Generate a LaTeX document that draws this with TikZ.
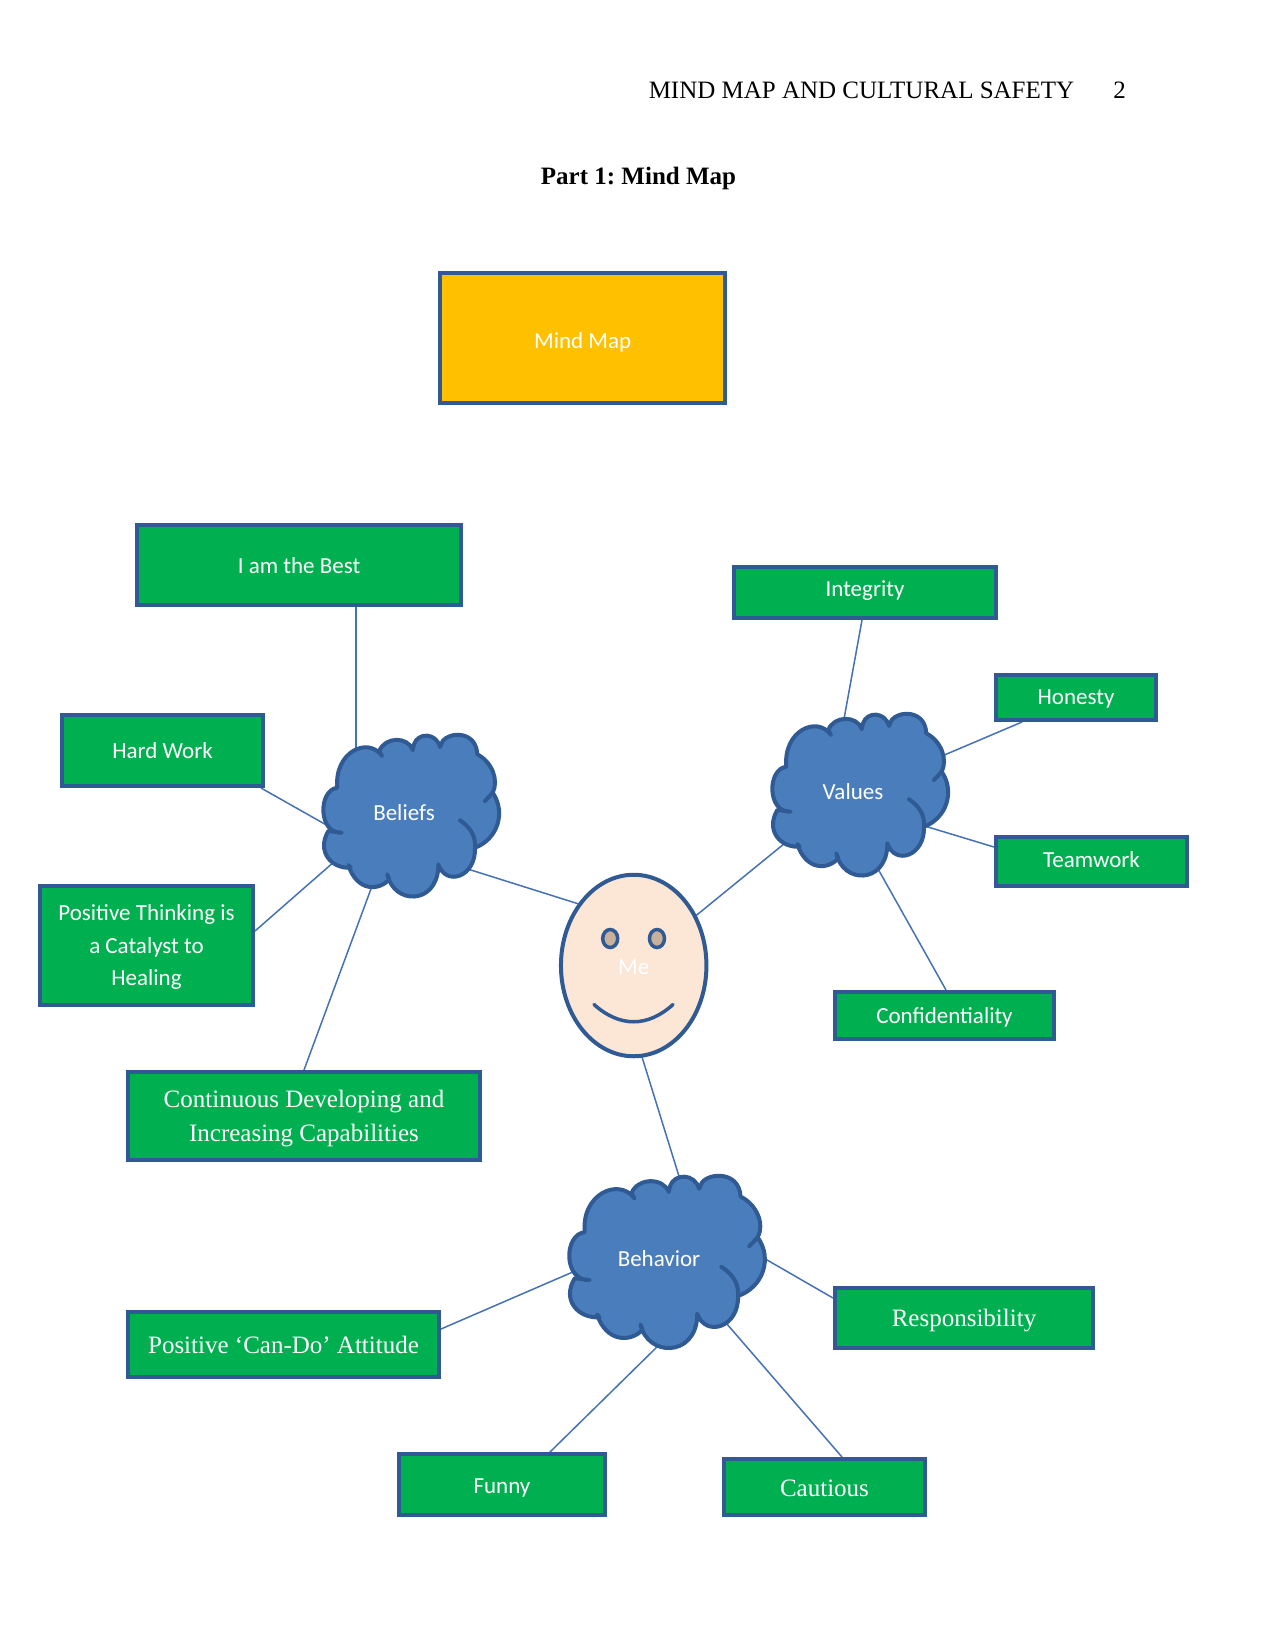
\documentclass[tikz,border=0pt]{standalone}
\usepackage{fontspec}
\setmainfont{Liberation Serif}
\newfontfamily\calibri{Carlito}
\usetikzlibrary{shapes.geometric,backgrounds}
\definecolor{edgeblue}{HTML}{2F5A94}
\definecolor{linkblue}{HTML}{4472B4}
\definecolor{cloudblue}{HTML}{4A7DBB}
\definecolor{boxgreen}{HTML}{00B050}
\definecolor{boxyellow}{HTML}{FFC000}
\definecolor{facepeach}{HTML}{FCE6D6}
\definecolor{eyetan}{HTML}{C9B09B}
\tikzset{
  greenbox/.style={draw=edgeblue, line width=4, fill=boxgreen, text=white, align=center, font=\fontsize{23}{32.5}\selectfont\calibri},
  serifbox/.style={greenbox, font=\fontsize{25}{33.5}\selectfont},
  cloudtext/.style={text=white, text height=18, font=\fontsize{23}{28}\selectfont\calibri},
  link/.style={draw=linkblue, line width=1.5},
  pics/puff/.style={code={
    \draw[edgeblue, fill=cloudblue, line width=4, line join=round, line cap=round]
      (-66.7,24.3) .. controls (-70,60) and (-36,76) .. (-22,56) -- (-24.7,61)
      .. controls (-19,75.7) and (4,75.7) .. (8.7,62) -- (10,67.7)
      .. controls (14,79.7) and (32,79.7) .. (36,65) -- (38.7,71)
      .. controls (45,80) and (72,82) .. (73.3,57.7)
      .. controls (88,50) and (95,32) .. (88.7,19.3)
      .. controls (102,0) and (94,-27) .. (71,-35.7)
      .. controls (72,-65) and (42,-75) .. (34.3,-52.3) -- (34.3,-55.7)
      .. controls (32,-93) and (-10,-93) .. (-16.7,-62.3) -- (-14.7,-67.3)
      .. controls (-25,-79) and (-47,-80) .. (-55.7,-53) -- (-53.3,-55.7)
      .. controls (-72,-57) and (-88,-40) .. (-75.7,-19) -- (-62.3,-20.7)
      .. controls (-86,-22) and (-86,22) .. (-66.7,24.3) -- cycle;
    \draw[edgeblue, line width=4, line cap=round] (56,-8.3) .. controls (66,-15) and (72,-24) .. (71,-35.7);
    \draw[edgeblue, line width=4, line cap=round] (81,11) -- (88.7,19.3);
  }}
}
\begin{document}
\frenchspacing
\begin{tikzpicture}[x=1pt, y=1pt, node distance=100pt]
\useasboundingbox (0,0) rectangle (1275,-1650);
% page head
\node (head) at (861.5,-90) [font=\fontsize{25}{30}\selectfont] {MIND MAP AND CULTURAL SAFETY};
\node (page) [right of=head, xshift=158, font=\fontsize{25}{30}\selectfont] {2};
\node (part) [below of=head, xshift=-223, yshift=12, font=\fontsize{25}{30}\selectfont\bfseries] {Part 1: Mind Map};
% centre face and the three clouds
\node (me) at (633.7,-965.5) [ellipse, draw=edgeblue, line width=4, fill=facepeach, text=white, minimum width=145.5, minimum height=181.5, inner sep=0, text height=19, font=\fontsize{23}{28}\selectfont\calibri] {Me};
\node (mindmap) [above of=me, xshift=-51, yshift=527.5, draw=edgeblue, line width=4, fill=boxyellow, text=white, minimum width=285, minimum height=130, text height=25, font=\fontsize{23}{28}\selectfont\calibri] {Mind Map};
\node (beliefs) [left of=me, xshift=-129.7, yshift=153.5, cloudtext] {Beliefs};
\node (values) [right of=me, xshift=119.3, yshift=174.5, cloudtext] {Values};
\node (behavior) [below of=me, xshift=25.3, yshift=-192.5, cloudtext] {Behavior};
% beliefs branch
\node (best) [above of=beliefs, xshift=-105, yshift=147, greenbox, minimum width=324, minimum height=80, text height=17] {I am the Best};
\node (hardwork) [left of=beliefs, xshift=-141.5, yshift=61.5, greenbox, minimum width=201, minimum height=71] {Hard Work};
\node (thinking) [left of=beliefs, xshift=-157.5, yshift=-133.5, greenbox, minimum width=213, minimum height=119, text depth=0] {Positive Thinking is\\a Catalyst to\\Healing};
\node (developing) [below of=beliefs, xshift=-100, yshift=-204, serifbox, minimum width=352, minimum height=88, text depth=-2] {Continuous Developing and\\Increasing Capabilities};
% values branch
\node (integrity) [above of=values, xshift=12, yshift=98.5, greenbox, minimum width=262, minimum height=51, text depth=7] {Integrity};
\node (honesty) [right of=values, xshift=123, yshift=93.5, greenbox, minimum width=160, minimum height=45, text height=17] {Honesty};
\node (teamwork) [right of=values, xshift=138.5, yshift=-70.5, greenbox, minimum width=191, minimum height=49, text depth=4] {Teamwork};
\node (confidential) [below of=values, xshift=91.5, yshift=-124.5, greenbox, minimum width=219, minimum height=47, text height=19] {Confidentiality};
% behavior branch
\node (cando) [left of=behavior, xshift=-275.5, yshift=-86.5, serifbox, minimum width=311, minimum height=65] {Positive ‘Can-Do’ Attitude};
\node (funny) [below of=behavior, xshift=-157, yshift=-126.5, greenbox, minimum width=206, minimum height=61, text height=22] {Funny};
\node (cautious) [below of=behavior, xshift=165.5, yshift=-129, serifbox, minimum width=201, minimum height=56, text height=19] {Cautious};
\node (responsible) [right of=behavior, xshift=205, yshift=-60, serifbox, minimum width=258, minimum height=60, text height=23] {Responsibility};
% eyes and smile
\draw[edgeblue, fill=eyetan, line width=3.5] ([shift={(-23.5,27)}]me.center) ellipse (7.5 and 9);
\draw[edgeblue, fill=eyetan, line width=3.5] ([shift={(23.3,27)}]me.center) ellipse (7.5 and 9);
\draw[edgeblue, line width=3.5, line cap=round] ([shift={(-39.7,-39)}]me.center) .. controls ([shift={(-14,-62)}]me.center) and ([shift={(14,-62)}]me.center) .. ([shift={(39.3,-39)}]me.center);
\begin{scope}[on background layer]
\draw[link] ([xshift=57]best.south) -- ([shift={(-48,47)}]beliefs.center);
\draw[link] ([xshift=98.5]hardwork.south) -- ([shift={(-74,-15)}]beliefs.center);
\draw[link] ([yshift=14.5]thinking.east) -- ([shift={(-69,-49)}]beliefs.center);
\draw[link] (developing.north) -- ([shift={(-29,-66)}]beliefs.center);
\draw[link] ([shift={(51,-53)}]beliefs.center) -- ([shift={(-43.7,58)}]me.center);
\draw[link] ([shift={(-63,-48)}]values.center) -- ([shift={(56.3,45)}]me.center);
\draw[link] ([xshift=-3]integrity.south) -- ([shift={(-11,61)}]values.center);
\draw[link] ([xshift=-54]honesty.south) -- ([shift={(82,32)}]values.center);
\draw[link] ([yshift=14.5]teamwork.west) -- ([shift={(65,-33)}]values.center);
\draw[link] ([xshift=1.5]confidential.north) -- ([shift={(20,-69)}]values.center);
\draw[link] ([shift={(6.3,-85)}]me.center) -- ([shift={(23,72)}]behavior.center);
\draw[link] ([yshift=15.5]cando.east) -- ([shift={(-77,-10)}]behavior.center);
\draw[link] ([xshift=48]funny.north) -- ([shift={(3,-84)}]behavior.center);
\draw[link] ([xshift=17.5]cautious.north) -- ([shift={(61,-58)}]behavior.center);
\draw[link] ([yshift=20]responsible.west) -- ([shift={(96,5)}]behavior.center);
\pic at (beliefs.center) {puff};
\pic at (values.center) {puff};
\pic[xscale=1.113, yscale=1.065] at (behavior.center) {puff};
\end{scope}
\end{tikzpicture}
\end{document}
